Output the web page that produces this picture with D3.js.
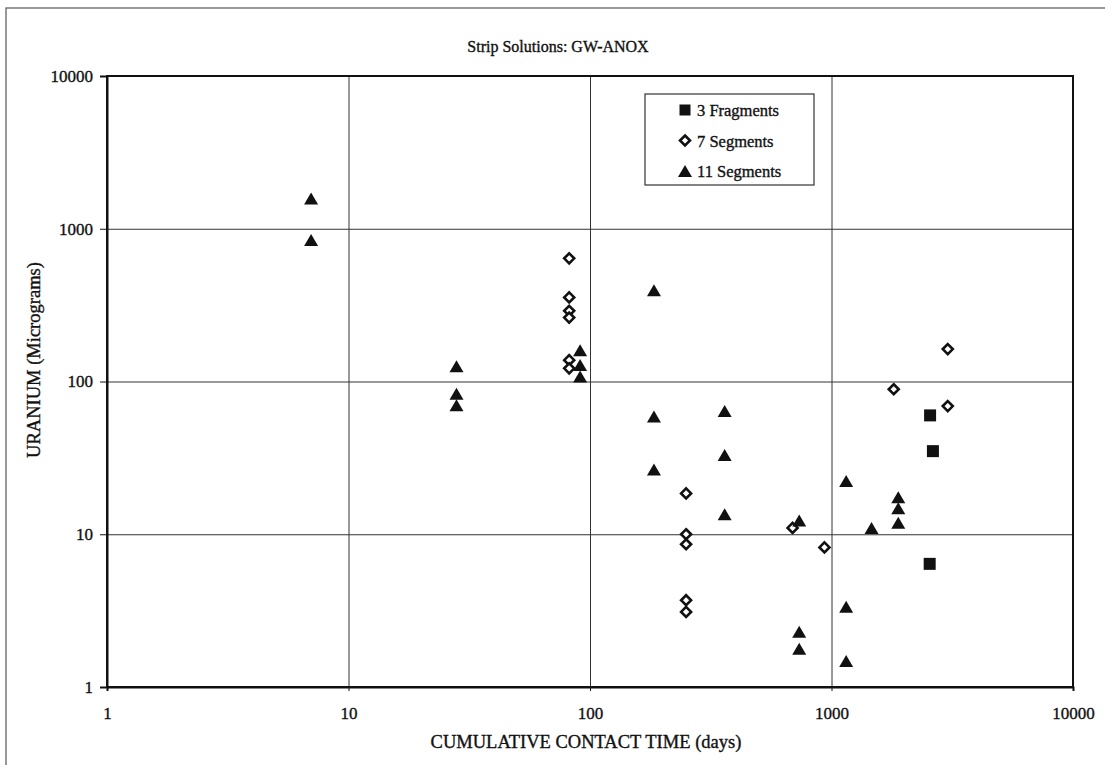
<!DOCTYPE html>
<html>
<head>
<meta charset="utf-8">
<script src="https://cdn.jsdelivr.net/npm/d3@7"></script>
<style>
  body { margin: 0; background: #fff; }
  svg { display: block; }
  text { font-family: "Liberation Serif", "DejaVu Serif", serif; fill: #111; stroke: #111; stroke-width: 0.35px; }
  .grid line { stroke: #333; stroke-width: 1; }
  .grid path { display: none; }
  .axis path, .axis line { stroke: #111; }
  .axis text { font-size: 17px; }
</style>
</head>
<body>
<div id="chart"></div>
<script>
// data (days, micrograms)
var seriesNames = ["3 Fragments", "7 Segments", "11 Segments"]

var fragments3 = [
  [2560, 60], [2630, 35], [2550, 6.4]
]

var segments7 = [
  [82, 640], [82, 355], [82, 290], [82, 262], [82, 138], [82, 122],
  [250, 18.5], [250, 10], [250, 8.6], [250, 3.7], [250, 3.1],
  [690, 11], [935, 8.2], [1810, 89], [3030, 163], [3030, 69]
]

var segments11 = [
  [7, 1580], [7, 845],
  [28, 126], [28, 83], [28, 70],
  [91, 160], [91, 128], [91, 108],
  [184, 395], [184, 59], [184, 26.5],
  [361, 64], [361, 33], [361, 13.5],
  [735, 12.3], [735, 2.3], [735, 1.78],
  [1150, 22.3], [1150, 3.35], [1150, 1.48],
  [1465, 11], [1890, 17.5], [1890, 14.8], [1890, 11.9]
]

var xTicks = [1, 10, 100, 1000, 10000]
var yTicks = [1, 10, 100, 1000, 10000]

var width = 1105, height = 765
var margin = {top: 76, right: 32, bottom: 78, left: 107}
var serif = "Liberation Serif, DejaVu Serif, serif"

var svg = d3.select("#chart").append("svg")
    .attr("width", width)
    .attr("height", height)

// outer frame of the scanned page
svg.append("rect")
    .attr("x", 6).attr("y", 8)
    .attr("width", width + 20).attr("height", height + 20)
    .attr("fill", "none")
    .attr("stroke", "#555")
    .attr("stroke-width", 1.2)

var x = d3.scaleLog()
    .domain([1, 10000])
    .range([margin.left, width - margin.right])

var y = d3.scaleLog()
    .domain([1, 10000])
    .range([height - margin.bottom, margin.top])

var fmt = d3.format("d")

// gridlines
svg.append("g")
    .attr("class", "grid")
    .attr("transform", "translate(0," + (height - margin.bottom) + ")")
    .call(d3.axisBottom(x).tickValues(xTicks).tickSize(-(height - margin.bottom - margin.top)).tickFormat(""))

svg.append("g")
    .attr("class", "grid")
    .attr("transform", "translate(" + margin.left + ",0)")
    .call(d3.axisLeft(y).tickValues(yTicks).tickSize(-(width - margin.right - margin.left)).tickFormat(""))

// plot border
svg.append("rect")
    .attr("x", margin.left)
    .attr("y", margin.top)
    .attr("width", width - margin.right - margin.left)
    .attr("height", height - margin.bottom - margin.top)
    .attr("fill", "none")
    .attr("stroke", "#111")
    .attr("stroke-width", 2)

// axes
var xAxis = svg.append("g")
    .attr("class", "axis")
    .attr("transform", "translate(0," + (height - margin.bottom) + ")")
    .call(d3.axisBottom(x).tickValues(xTicks).tickFormat(fmt).tickSize(4).tickPadding(16))
xAxis.attr("font-family", serif).attr("font-size", 17)
xAxis.select(".domain").attr("stroke-width", 2)

var yAxis = svg.append("g")
    .attr("class", "axis")
    .attr("transform", "translate(" + margin.left + ",0)")
    .call(d3.axisLeft(y).tickValues(yTicks).tickFormat(fmt).tickSize(7).tickPadding(7))
yAxis.attr("font-family", serif).attr("font-size", 17)
yAxis.select(".domain").attr("stroke-width", 2)

// titles
svg.append("text")
    .attr("x", 558).attr("y", 52)
    .attr("text-anchor", "middle")
    .attr("font-size", 16)
    .text("Strip Solutions: GW-ANOX")

svg.append("text")
    .attr("x", 586).attr("y", 748)
    .attr("text-anchor", "middle")
    .attr("font-size", 18.5)
    .text("CUMULATIVE CONTACT TIME (days)")

svg.append("text")
    .attr("transform", "translate(40,360) rotate(-90)")
    .attr("text-anchor", "middle")
    .attr("font-size", 18.5)
    .text("URANIUM (Micrograms)")

// marker shapes, centred on the point
function square(s) {
  return "M" + (-s / 2) + "," + (-s / 2) + "h" + s + "v" + s + "h" + (-s) + "Z"
}
function diamond(s) {
  return "M0," + (-s / 2) + "L" + (s / 2) + ",0L0," + (s / 2) + "L" + (-s / 2) + ",0Z"
}
function triangle(w, h) {
  return "M0," + (-h / 2) + "L" + (w / 2) + "," + (h / 2) + "L" + (-w / 2) + "," + (h / 2) + "Z"
}

var plot = svg.append("g")

plot.selectAll(".frag")
    .data(fragments3)
    .enter().append("path")
    .attr("class", "frag")
    .attr("transform", function(d) { return "translate(" + x(d[0]) + "," + y(d[1]) + ")" })
    .attr("d", square(12))
    .attr("fill", "#111")

plot.selectAll(".seg7")
    .data(segments7)
    .enter().append("path")
    .attr("class", "seg7")
    .attr("transform", function(d) { return "translate(" + x(d[0]) + "," + y(d[1]) + ")" })
    .attr("d", diamond(10))
    .attr("fill", "#fff")
    .attr("stroke", "#111")
    .attr("stroke-width", 2.6)

plot.selectAll(".seg11")
    .data(segments11)
    .enter().append("path")
    .attr("class", "seg11")
    .attr("transform", function(d) { return "translate(" + x(d[0]) + "," + y(d[1]) + ")" })
    .attr("d", triangle(14, 12))
    .attr("fill", "#111")

// legend
var legend = svg.append("g").attr("transform", "translate(645,94)")
legend.append("rect")
    .attr("width", 169).attr("height", 91)
    .attr("fill", "#fff")
    .attr("stroke", "#333")
    .attr("stroke-width", 1.2)

var legendShapes = [
  function(g) { g.append("path").attr("d", square(11)).attr("fill", "#111") },
  function(g) { g.append("path").attr("d", diamond(10)).attr("fill", "#fff").attr("stroke", "#111").attr("stroke-width", 2.6) },
  function(g) { g.append("path").attr("d", triangle(14, 12)).attr("fill", "#111") }
]

seriesNames.forEach(function(name, i) {
  var row = legend.append("g").attr("transform", "translate(40," + (16 + i * 30.5) + ")")
  legendShapes[i](row)
  row.append("text")
      .attr("x", 12).attr("y", 6)
      .attr("font-size", 16.5)
      .text(name)
})
</script>
</body>
</html>
